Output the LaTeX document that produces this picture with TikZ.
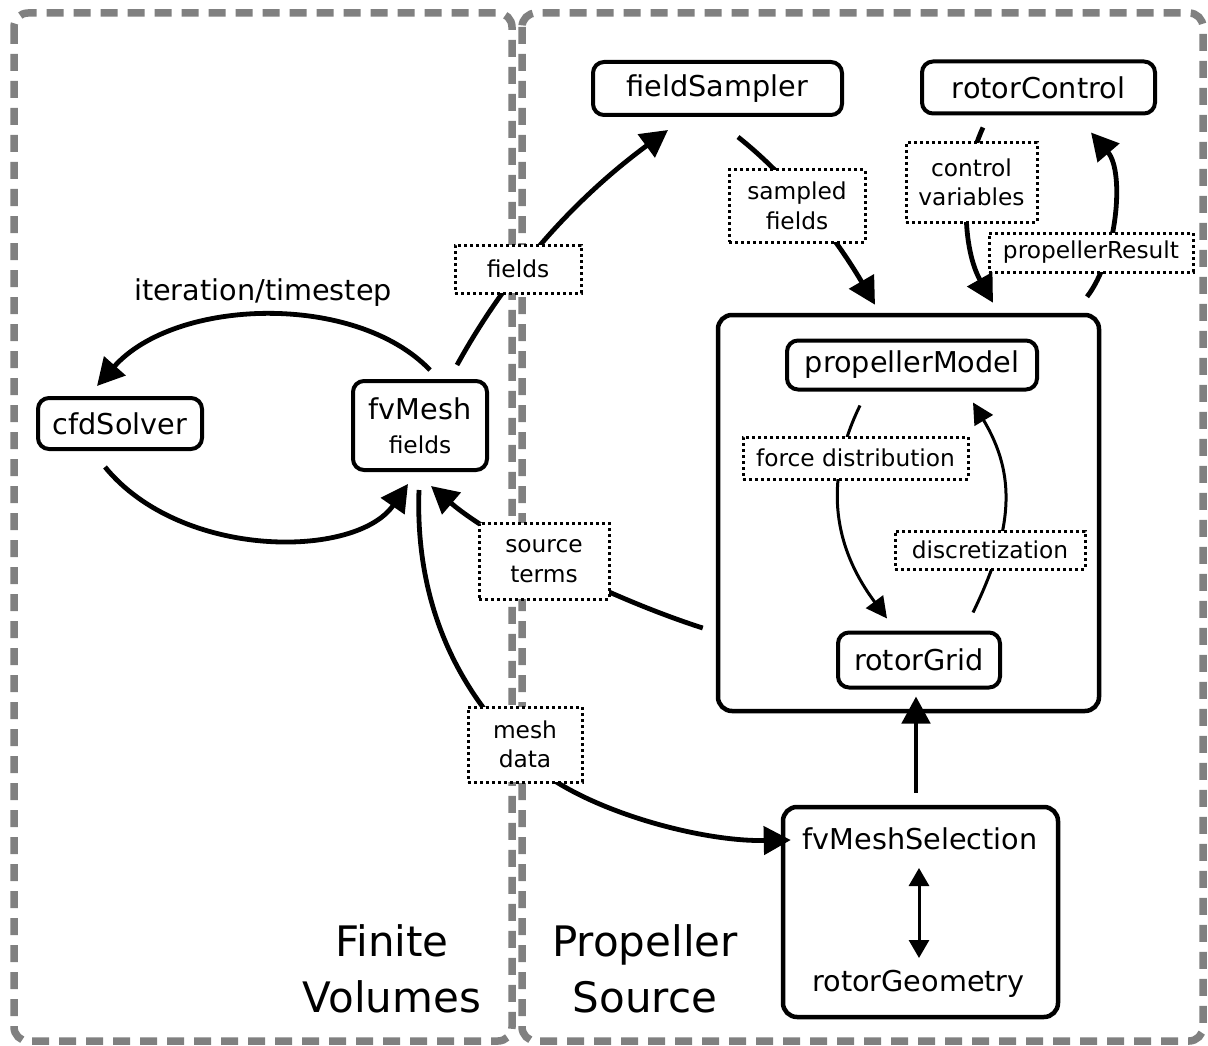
\documentclass[tikz,border=0pt]{standalone}
\usepackage{fontspec}
\setmainfont{DejaVu Sans}
\usetikzlibrary{arrows.meta,calc}

\definecolor{regiongray}{RGB}{128,128,128}
\newcommand\fsMain{\fontsize{28.7}{34}\selectfont}
\newcommand\fsLabel{\fontsize{23.3}{29.5}\selectfont}
\newcommand\fsBig{\fontsize{42}{56}\selectfont}

\pgfdeclarelayer{back}
\pgfdeclarelayer{wires}
\pgfsetlayers{back,wires,main}

\begin{document}
\begin{tikzpicture}[x=1pt,y=-1pt,
  comp/.style={draw, line width=4pt, rounded corners=11pt, font=\fsMain,
    inner sep=0pt, align=center, fill=white},
  group/.style={draw, line width=4.5pt, rounded corners=14pt, inner sep=0pt},
  tag/.style={draw, fill=white, line width=3pt, dash pattern=on 3pt off 3pt,
    font=\fsLabel, align=center, inner sep=0pt},
  plain/.style={font=\fsMain, inner sep=0pt},
  flow/.style={line width=4.8pt, -{Triangle[length=27pt,width=28pt]}},
  thinflow/.style={line width=3pt, -{Triangle[length=21pt,width=21pt]}},
  bothflow/.style={line width=3pt, {Triangle[length=18pt,width=20pt]}-{Triangle[length=18pt,width=20pt]}},
  region/.style={draw=regiongray, line width=7.5pt, dash pattern=on 17pt off 10pt,
    rounded corners=14pt}]

\useasboundingbox (0,0) rectangle (1208,1046);

% the two domains
\begin{pgfonlayer}{back}
  \draw[region] (14,13) rectangle (512,1041);
  \draw[region] (522,13) rectangle (1203,1041);
\end{pgfonlayer}

% components
\node[comp, minimum width=249pt, minimum height=53pt] (sampler) at (717.5,88.5) {fieldSampler};
\node[comp, minimum width=233pt, minimum height=52pt] (control) at (1038.5,87.5) {rotorControl};
\node[comp, minimum width=164pt, minimum height=51pt] (solver) at (120,423.5) {cfdSolver};
\node[comp, minimum width=134pt, minimum height=89pt] (mesh) at (420,425.5) {fvMesh\\{\fsLabel fields}};

\node[group, minimum width=381pt, minimum height=396pt] (source) at (908.5,513) {};
\node[comp, minimum width=250pt, minimum height=49pt] (model) at (912,365) {propellerModel};
\node[comp, minimum width=162pt, minimum height=55pt] (grid) at (919,660) {rotorGrid};

\node[group, minimum width=275pt, minimum height=210pt] (selection) at (920.5,912) {};
\node[plain, anchor=base] (meshsel) at (920,849) {fvMeshSelection};
\node[plain, anchor=base] (geometry) at (918.5,991) {rotorGeometry};

% free labels
\node[plain, anchor=base] (looplabel) at (263,300) {iteration/timestep};
\node[font=\fsBig, align=center, inner sep=0pt] (fvtitle) at (392,969) {Finite\\Volumes};
\node[font=\fsBig, align=center, inner sep=0pt] (pstitle) at (645,969) {Propeller\\Source};

% connector labels
\node[tag, minimum width=126pt, minimum height=48pt] (tfields) at (518,269) {fields};
\node[tag, minimum width=136pt, minimum height=72pt] (tsampled) at (797,206) {sampled\\fields};
\node[tag, minimum width=131pt, minimum height=79pt] (tcontrol) at (971.5,182.5) {control\\variables};
\node[tag, minimum width=204pt, minimum height=39pt] (tresult) at (1091,252.5) {propellerResult};
\node[tag, minimum width=130pt, minimum height=76pt] (tsource) at (544,561) {source\\terms};
\node[tag, minimum width=225pt, minimum height=42pt] (tforce) at (855.5,458) {force distribution};
\node[tag, minimum width=190pt, minimum height=38pt] (tdisc) at (990,550) {discretization};
\node[tag, minimum width=114pt, minimum height=75pt] (tmeshdata) at (525,744.5) {mesh\\data};

% connectors
\begin{pgfonlayer}{wires}
  % solver loop
  \draw[flow] ($(mesh.north)+(10,-9)$) .. controls (355,292) and (175,298) .. ($(solver.north)+(-23,-10)$);
  \draw[flow] ($(solver.south)+(-15,16)$) .. controls (181,560) and (356,559) .. ($(mesh.south)+(-12,12)$);
  % fields to the sampler
  \draw[flow] ($(mesh.north)+(37,-14)$) .. controls (521,249) and (600,180) .. ($(sampler.south)+(-49.5,13)$);
  \draw[flow] ($(sampler.south)+(20.5,20)$) .. controls (801,187) and (846,255) .. ($(source.north)+(-33.5,-8)$);
  % rotor control loop
  \draw[flow] ($(control.south)+(-55.5,12)$) .. controls (959,179) and (963,250) .. ($(source.north)+(84.5,-10)$);
  \draw[flow] ($(source.north)+(178.5,-16)$) .. controls (1117,258) and (1125,172) .. ($(control.south)+(52.5,17)$);
  % source terms back to the mesh
  \draw[flow] ($(source.west)+(-13,115)$) .. controls (609,598) and (493,539) .. ($(mesh.south)+(11,14)$);
  % mesh data to the selection
  \draw[flow] ($(mesh.south)+(-1,18)$) .. controls (415,600) and (455,684) .. ($(tmeshdata.center)+(-10,0)$)
     .. controls (550,800) and (690,842) .. ($(selection.west)+(10,-72)$);
  % inside the propeller source
  \draw[thinflow] ($(model.south)+(-52,14)$) .. controls (828,471) and (827,538) .. ($(grid.north)+(-32,-12)$);
  \draw[thinflow] ($(grid.north)+(54,-18)$) .. controls (1013,530) and (1017,476) .. ($(model.south)+(61,11)$);
  \draw[flow] ($(selection.north)+(-4.5,-12)$) -- ($(grid.south)+(-3,7)$);
  \draw[bothflow] ($(meshsel.base)+(-1,19)$) -- ($(geometry.base)+(0.5,-33)$);
\end{pgfonlayer}

\end{tikzpicture}
\end{document}
